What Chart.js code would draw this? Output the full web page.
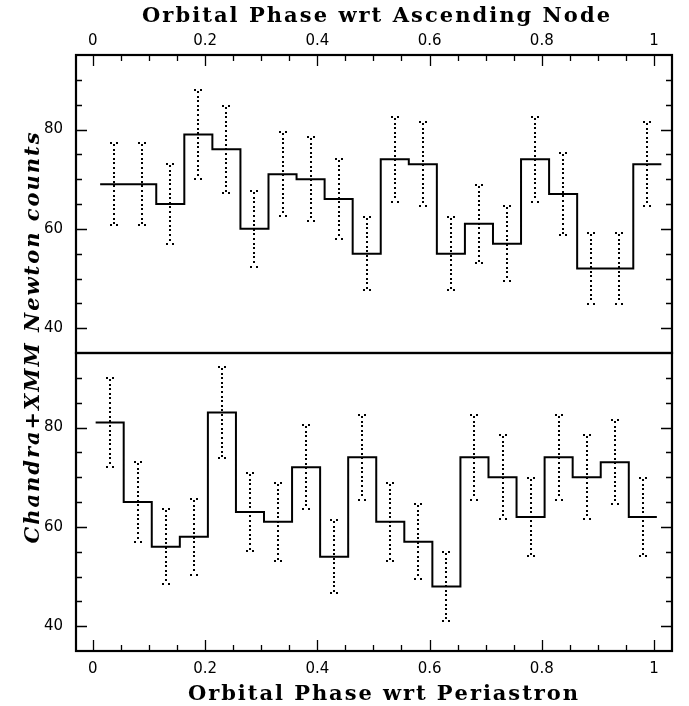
<!DOCTYPE html>
<html><head><meta charset="utf-8">
<script src="https://cdn.jsdelivr.net/npm/chart.js@4.4.1/dist/chart.umd.min.js"></script>
<style>
html,body{margin:0;padding:0;background:#fff;}
#wrap{position:relative;width:689px;height:706px;background:#fff;}
canvas{position:absolute;left:0;top:0;}
</style></head><body>
<div id="wrap"><canvas id="c1" width="689" height="706"></canvas><canvas id="c2" width="689" height="706"></canvas></div>
<script>
// ---- data ----
const binWidth = 0.05;
const topBinCenters = [0.038,0.088,0.138,0.188,0.238,0.288,0.338,0.388,0.438,0.488,0.538,0.588,0.638,0.688,0.738,0.788,0.838,0.888,0.938,0.988];
const topCounts = [69,69,65,79,76,60,71,70,66,55,74,73,55,61,57,74,67,52,52,73];
const topErrors = [8.3,8.3,8.1,8.9,8.7,7.7,8.4,8.4,8.1,7.4,8.6,8.5,7.4,7.8,7.5,8.6,8.2,7.2,7.2,8.5];
const botBinCenters = [0.030,0.080,0.130,0.180,0.230,0.280,0.330,0.380,0.430,0.480,0.530,0.580,0.630,0.680,0.730,0.780,0.830,0.880,0.930,0.980];
const botCounts = [81,65,56,58,83,63,61,72,54,74,61,57,48,74,70,62,74,70,73,62];
const botErrors = [9.0,8.1,7.5,7.6,9.1,7.9,7.8,8.5,7.3,8.6,7.8,7.5,6.9,8.6,8.4,7.9,8.6,8.4,8.5,7.9];

const xTicks = [0,0.05,0.1,0.15,0.2,0.25,0.3,0.35,0.4,0.45,0.5,0.55,0.6,0.65,0.7,0.75,0.8,0.85,0.9,0.95,1];
const xMajorTicks = [0,0.2,0.4,0.6,0.8,1];
const xMajorLabels = ['0','0.2','0.4','0.6','0.8','1'];
const yTicks = [40,45,50,55,60,65,70,75,80,85,90];
const yMajorTicks = [40,60,80];
const yMajorLabels = ['40','60','80'];

const topTitle = 'Orbital Phase wrt Ascending Node';
const bottomTitle = 'Orbital Phase wrt Periastron';
const yTitle = 'Chandra+XMM Newton counts';

// ---- helpers ----
function stepPoints(centers, counts){
  const pts = centers.map((c,i)=>({x:c-binWidth/2, y:counts[i]}));
  pts.push({x:centers[centers.length-1]+binWidth/2, y:counts[counts.length-1]});
  return pts;
}
function labelFor(value, majors, labels){
  const i = majors.findIndex(m => Math.abs(m - value) < 1e-6);
  return i >= 0 ? labels[i] : '';
}
function isMajor(value, majors){ return majors.some(m => Math.abs(m - value) < 1e-6); }

function drawSpaced(ctx, text, cx, y, target){
  let w0 = 0; const ws = [];
  for (const ch of text){ const w = ctx.measureText(ch).width; ws.push(w); w0 += w; }
  const sp = (target - w0) / (text.length - 1);
  let x = cx - target/2;
  ctx.textAlign = 'left';
  [...text].forEach((ch,i)=>{ ctx.fillText(ch, x, y); x += ws[i] + sp; });
}

const MAJOR = 11, MINOR = 6;
function framePlugin(edgeX){ // edgeX: 'top' or 'bottom'
  return {
    id: 'frame_' + edgeX,
    afterDatasetsDraw(chart){
      const ctx = chart.ctx, a = chart.chartArea;
      const xs = chart.scales.x, ys = chart.scales.y;
      ctx.save();
      ctx.strokeStyle = '#000';
      ctx.lineWidth = 1.3;
      ctx.beginPath();
      xTicks.forEach(v=>{
        const px = Math.round(xs.getPixelForValue(v)) + 0.5;
        const len = isMajor(v, xMajorTicks) ? MAJOR : MINOR;
        if (edgeX === 'top'){ ctx.moveTo(px, a.top); ctx.lineTo(px, a.top + len); }
        else { ctx.moveTo(px, a.bottom); ctx.lineTo(px, a.bottom - len); }
      });
      yTicks.forEach(v=>{
        const py = Math.round(ys.getPixelForValue(v)) + 0.5;
        const len = isMajor(v, yMajorTicks) ? MAJOR : MINOR;
        ctx.moveTo(a.left, py); ctx.lineTo(a.left + len, py);
        ctx.moveTo(a.right, py); ctx.lineTo(a.right - len, py);
      });
      ctx.stroke();
      ctx.lineWidth = 2.2;
      ctx.strokeRect(a.left, a.top, a.right - a.left, a.bottom - a.top);
      ctx.restore();
    }
  };
}

function errorBarPlugin(centers, counts, errors){
  return {
    id: 'errbars',
    beforeDatasetsDraw(chart){
      const ctx = chart.ctx, xs = chart.scales.x, ys = chart.scales.y;
      ctx.save();
      ctx.fillStyle = '#000';
      centers.forEach((c,i)=>{
        const px = Math.round(xs.getPixelForValue(c));
        const yt = Math.round(ys.getPixelForValue(counts[i] + errors[i]));
        const yb = Math.round(ys.getPixelForValue(counts[i] - errors[i]));
        for (let y = yt + 1; y <= yb - 2; y += 4.6){ ctx.fillRect(px - 1, Math.round(y), 2, 2); }
        ctx.fillRect(px - 4, yt - 1, 2, 2); ctx.fillRect(px + 2, yt - 1, 2, 2);
        ctx.fillRect(px - 4, yb - 1, 2, 2); ctx.fillRect(px + 2, yb - 1, 2, 2);
      });
      ctx.restore();
    }
  };
}

const tickFont = {family: '"DejaVu Sans", sans-serif', size: 15};

function makeX(position){
  return {
    type: 'linear', position, min: -0.03, max: 1.032,
    grid: {display: false, drawTicks: false}, border: {display: false},
    afterBuildTicks: s => { s.ticks = xTicks.map(v => ({value: v})); },
    afterFit: s => { s.height = 55; },
    ticks: {font: tickFont, color: '#000', autoSkip: false, maxRotation: 0, padding: position === 'top' ? 5 : 9,
      callback: v => labelFor(v, xMajorTicks, xMajorLabels)}
  };
}
function makeY(){
  return {
    type: 'linear', min: 35, max: 95,
    grid: {display: false, drawTicks: false}, border: {display: false},
    afterBuildTicks: s => { s.ticks = yTicks.map(v => ({value: v})); },
    afterFit: s => { s.width = 76; },
    ticks: {font: tickFont, color: '#000', autoSkip: false, padding: 13,
      callback: v => labelFor(v, yMajorTicks, yMajorLabels)}
  };
}
function lineDataset(centers, counts){
  return {data: stepPoints(centers, counts), stepped: true, borderColor: '#000', borderWidth: 2,
    pointRadius: 0, fill: false, borderJoinStyle: 'miter', borderCapStyle: 'butt'};
}

const titleTop = {
  id: 'titleTop',
  afterDraw(chart){
    const ctx = chart.ctx; ctx.save(); ctx.fillStyle = '#000';
    ctx.font = 'bold 21px "DejaVu Serif", serif'; ctx.textBaseline = 'alphabetic';
    drawSpaced(ctx, topTitle, 376, 22, 468);
    ctx.restore();
  }
};
const titleBottom = {
  id: 'titleBottom',
  afterDraw(chart){
    const ctx = chart.ctx; ctx.save(); ctx.fillStyle = '#000';
    ctx.font = 'bold 21px "DejaVu Serif", serif'; ctx.textBaseline = 'alphabetic';
    drawSpaced(ctx, bottomTitle, 383, 700, 390);
    ctx.translate(39, 338); ctx.rotate(-Math.PI/2);
    ctx.font = 'italic bold 21px "DejaVu Serif", serif';
    drawSpaced(ctx, yTitle, 0, 0, 411);
    ctx.restore();
  }
};

const common = {responsive: false, animation: false, devicePixelRatio: 1,
  plugins: {legend: {display: false}, tooltip: {enabled: false}}, events: []};

new Chart(document.getElementById('c1'), {
  type: 'line',
  data: {datasets: [lineDataset(topBinCenters, topCounts)]},
  options: Object.assign({}, common, {
    layout: {padding: {left: 0, right: 17, top: 0, bottom: 353}},
    scales: {x: makeX('top'), y: makeY()}
  }),
  plugins: [errorBarPlugin(topBinCenters, topCounts, topErrors), framePlugin('top'), titleTop]
});
new Chart(document.getElementById('c2'), {
  type: 'line',
  data: {datasets: [lineDataset(botBinCenters, botCounts)]},
  options: Object.assign({}, common, {
    layout: {padding: {left: 0, right: 17, top: 353, bottom: 0}},
    scales: {x: makeX('bottom'), y: makeY()}
  }),
  plugins: [errorBarPlugin(botBinCenters, botCounts, botErrors), framePlugin('bottom'), titleBottom]
});
</script>
</body></html>
